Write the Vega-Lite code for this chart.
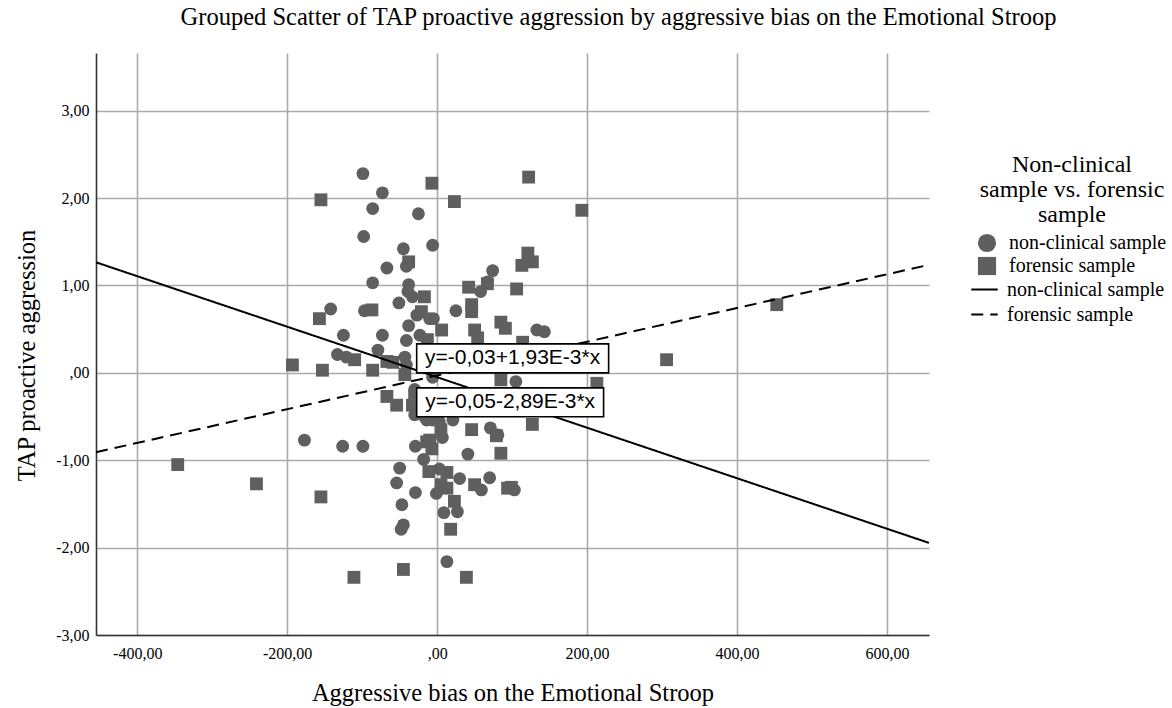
{
  "$schema": "https://vega.github.io/schema/vega-lite/v6.json",
  "width": 833,
  "height": 582,
  "autosize": {"type": "none"},
  "padding": {"left": 96, "top": 53, "right": 243, "bottom": 73},
  "background": "white",
  "title": {
    "text": "Grouped Scatter of TAP proactive aggression by aggressive bias on the Emotional Stroop",
    "font": "Liberation Serif",
    "fontSize": 24.5,
    "fontWeight": "normal",
    "color": "#000000",
    "anchor": "middle",
    "dx": 106,
    "baseline": "alphabetic",
    "offset": 4
  },
  "config": {
    "view": {"stroke": null},
    "axis": {
      "labelFont": "Liberation Serif",
      "labelFontSize": 16,
      "labelColor": "#000000",
      "titleFont": "Liberation Serif",
      "titleFontSize": 24.5,
      "titleFontWeight": "normal",
      "titleColor": "#000000",
      "gridColor": "#aaaaaa",
      "gridWidth": 1.6,
      "gridOpacity": 1,
      "domainColor": "#333333",
      "domainWidth": 1.6,
      "ticks": false
    },
    "legend": {
      "labelFont": "Liberation Serif",
      "labelFontSize": 20,
      "labelColor": "#000000",
      "titleFont": "Liberation Serif",
      "titleFontSize": 24,
      "titleFontWeight": "normal",
      "titleColor": "#000000",
      "labelLimit": 400,
      "titleLimit": 400
    }
  },
  "datasets": {
    "pts": [
      {"x": -99, "y": 2.28, "group": "non-clinical sample"},
      {"x": -73, "y": 2.06, "group": "non-clinical sample"},
      {"x": -86, "y": 1.88, "group": "non-clinical sample"},
      {"x": -25, "y": 1.82, "group": "non-clinical sample"},
      {"x": -98, "y": 1.56, "group": "non-clinical sample"},
      {"x": -45, "y": 1.42, "group": "non-clinical sample"},
      {"x": -6, "y": 1.46, "group": "non-clinical sample"},
      {"x": -41, "y": 1.22, "group": "non-clinical sample"},
      {"x": -67, "y": 1.2, "group": "non-clinical sample"},
      {"x": -86, "y": 1.03, "group": "non-clinical sample"},
      {"x": -38, "y": 1.01, "group": "non-clinical sample"},
      {"x": -39, "y": 0.93, "group": "non-clinical sample"},
      {"x": -33, "y": 0.87, "group": "non-clinical sample"},
      {"x": -51, "y": 0.8, "group": "non-clinical sample"},
      {"x": 74, "y": 1.17, "group": "non-clinical sample"},
      {"x": 67, "y": 1.04, "group": "non-clinical sample"},
      {"x": 58, "y": 0.93, "group": "non-clinical sample"},
      {"x": -142, "y": 0.73, "group": "non-clinical sample"},
      {"x": -97, "y": 0.71, "group": "non-clinical sample"},
      {"x": -27, "y": 0.66, "group": "non-clinical sample"},
      {"x": -10, "y": 0.62, "group": "non-clinical sample"},
      {"x": -5, "y": 0.62, "group": "non-clinical sample"},
      {"x": -38, "y": 0.54, "group": "non-clinical sample"},
      {"x": 25, "y": 0.71, "group": "non-clinical sample"},
      {"x": 133, "y": 0.49, "group": "non-clinical sample"},
      {"x": 143, "y": 0.47, "group": "non-clinical sample"},
      {"x": -125, "y": 0.43, "group": "non-clinical sample"},
      {"x": -73, "y": 0.43, "group": "non-clinical sample"},
      {"x": -23, "y": 0.43, "group": "non-clinical sample"},
      {"x": -41, "y": 0.37, "group": "non-clinical sample"},
      {"x": -79, "y": 0.26, "group": "non-clinical sample"},
      {"x": -133, "y": 0.21, "group": "non-clinical sample"},
      {"x": -121, "y": 0.18, "group": "non-clinical sample"},
      {"x": -43, "y": 0.18, "group": "non-clinical sample"},
      {"x": -41, "y": 0.09, "group": "non-clinical sample"},
      {"x": 105, "y": -0.1, "group": "non-clinical sample"},
      {"x": -30, "y": -0.48, "group": "non-clinical sample"},
      {"x": -17, "y": -0.5, "group": "non-clinical sample"},
      {"x": 3, "y": -0.56, "group": "non-clinical sample"},
      {"x": -14, "y": -0.54, "group": "non-clinical sample"},
      {"x": 21, "y": -0.54, "group": "non-clinical sample"},
      {"x": 7, "y": -0.74, "group": "non-clinical sample"},
      {"x": -177, "y": -0.77, "group": "non-clinical sample"},
      {"x": -126, "y": -0.84, "group": "non-clinical sample"},
      {"x": -99, "y": -0.84, "group": "non-clinical sample"},
      {"x": -29, "y": -0.84, "group": "non-clinical sample"},
      {"x": 41, "y": -0.93, "group": "non-clinical sample"},
      {"x": 71, "y": -0.63, "group": "non-clinical sample"},
      {"x": -18, "y": -0.99, "group": "non-clinical sample"},
      {"x": -50, "y": -1.09, "group": "non-clinical sample"},
      {"x": 3, "y": -1.1, "group": "non-clinical sample"},
      {"x": 30, "y": -1.21, "group": "non-clinical sample"},
      {"x": 70, "y": -1.2, "group": "non-clinical sample"},
      {"x": -54, "y": -1.26, "group": "non-clinical sample"},
      {"x": 59, "y": -1.34, "group": "non-clinical sample"},
      {"x": 103, "y": -1.34, "group": "non-clinical sample"},
      {"x": -29, "y": -1.37, "group": "non-clinical sample"},
      {"x": -1, "y": -1.38, "group": "non-clinical sample"},
      {"x": -47, "y": -1.51, "group": "non-clinical sample"},
      {"x": 9, "y": -1.6, "group": "non-clinical sample"},
      {"x": 27, "y": -1.59, "group": "non-clinical sample"},
      {"x": -48, "y": -1.79, "group": "non-clinical sample"},
      {"x": -45, "y": -1.74, "group": "non-clinical sample"},
      {"x": 13, "y": -2.16, "group": "non-clinical sample"},
      {"x": 81, "y": -0.71, "group": "non-clinical sample"},
      {"x": -6, "y": -0.54, "group": "non-clinical sample"},
      {"x": -6, "y": -0.05, "group": "non-clinical sample"},
      {"x": -30, "y": -0.19, "group": "non-clinical sample"},
      {"x": -155, "y": 1.98, "group": "forensic sample"},
      {"x": -7, "y": 2.17, "group": "forensic sample"},
      {"x": 122, "y": 2.24, "group": "forensic sample"},
      {"x": 23, "y": 1.96, "group": "forensic sample"},
      {"x": 193, "y": 1.86, "group": "forensic sample"},
      {"x": -38, "y": 1.27, "group": "forensic sample"},
      {"x": 121, "y": 1.37, "group": "forensic sample"},
      {"x": 127, "y": 1.27, "group": "forensic sample"},
      {"x": 113, "y": 1.23, "group": "forensic sample"},
      {"x": 42, "y": 0.98, "group": "forensic sample"},
      {"x": 106, "y": 0.96, "group": "forensic sample"},
      {"x": -17, "y": 0.87, "group": "forensic sample"},
      {"x": 67, "y": 1.02, "group": "forensic sample"},
      {"x": -87, "y": 0.72, "group": "forensic sample"},
      {"x": -157, "y": 0.62, "group": "forensic sample"},
      {"x": -21, "y": 0.7, "group": "forensic sample"},
      {"x": 46, "y": 0.78, "group": "forensic sample"},
      {"x": 46, "y": 0.7, "group": "forensic sample"},
      {"x": 85, "y": 0.58, "group": "forensic sample"},
      {"x": 91, "y": 0.51, "group": "forensic sample"},
      {"x": 6, "y": 0.49, "group": "forensic sample"},
      {"x": 50, "y": 0.49, "group": "forensic sample"},
      {"x": 54, "y": 0.4, "group": "forensic sample"},
      {"x": -13, "y": 0.38, "group": "forensic sample"},
      {"x": 114, "y": 0.35, "group": "forensic sample"},
      {"x": -110, "y": 0.15, "group": "forensic sample"},
      {"x": -193, "y": 0.09, "group": "forensic sample"},
      {"x": -153, "y": 0.03, "group": "forensic sample"},
      {"x": -86, "y": 0.03, "group": "forensic sample"},
      {"x": -67, "y": 0.13, "group": "forensic sample"},
      {"x": -59, "y": 0.12, "group": "forensic sample"},
      {"x": -43, "y": -0.02, "group": "forensic sample"},
      {"x": -67, "y": -0.27, "group": "forensic sample"},
      {"x": -54, "y": -0.37, "group": "forensic sample"},
      {"x": -30, "y": -0.27, "group": "forensic sample"},
      {"x": 85, "y": -0.08, "group": "forensic sample"},
      {"x": 213, "y": -0.12, "group": "forensic sample"},
      {"x": 306, "y": 0.15, "group": "forensic sample"},
      {"x": 453, "y": 0.78, "group": "forensic sample"},
      {"x": 127, "y": -0.59, "group": "forensic sample"},
      {"x": 46, "y": -0.65, "group": "forensic sample"},
      {"x": 5, "y": -0.65, "group": "forensic sample"},
      {"x": -10, "y": -0.77, "group": "forensic sample"},
      {"x": -7, "y": -0.87, "group": "forensic sample"},
      {"x": -14, "y": -0.79, "group": "forensic sample"},
      {"x": 79, "y": -0.72, "group": "forensic sample"},
      {"x": 85, "y": -0.92, "group": "forensic sample"},
      {"x": -11, "y": -1.13, "group": "forensic sample"},
      {"x": 13, "y": -1.14, "group": "forensic sample"},
      {"x": 5, "y": -1.28, "group": "forensic sample"},
      {"x": 13, "y": -1.32, "group": "forensic sample"},
      {"x": 50, "y": -1.28, "group": "forensic sample"},
      {"x": 94, "y": -1.32, "group": "forensic sample"},
      {"x": 99, "y": -1.31, "group": "forensic sample"},
      {"x": 23, "y": -1.47, "group": "forensic sample"},
      {"x": 18, "y": -1.79, "group": "forensic sample"},
      {"x": -45, "y": -2.25, "group": "forensic sample"},
      {"x": -111, "y": -2.34, "group": "forensic sample"},
      {"x": 39, "y": -2.34, "group": "forensic sample"},
      {"x": -346, "y": -1.05, "group": "forensic sample"},
      {"x": -241, "y": -1.27, "group": "forensic sample"},
      {"x": -155, "y": -1.42, "group": "forensic sample"},
      {"x": -33, "y": -0.37, "group": "forensic sample"}
    ],
    "fits": [
      {"x": -455, "y": 1.265, "fit": "non-clinical sample"},
      {"x": 656, "y": -1.946, "fit": "non-clinical sample"},
      {"x": -455, "y": -0.908, "fit": "forensic sample"},
      {"x": 656, "y": 1.236, "fit": "forensic sample"}
    ],
    "boxes": [
      {"x": -27.3, "x2": 228.7, "y": 0.332, "y2": 0.0, "xc": 100.7, "yc": 0.166, "label": "y=-0,03+1,93E-3*x"},
      {"x": -27.3, "x2": 222, "y": -0.172, "y2": -0.503, "xc": 97.4, "yc": -0.338, "label": "y=-0,05-2,89E-3*x"}
    ]
  },
  "layer": [
    {
      "data": {"name": "pts"},
      "mark": {"type": "point", "filled": true, "opacity": 1, "color": "#5f5f5f", "strokeWidth": 0, "size": 165},
      "encoding": {
        "x": {
          "field": "x", "type": "quantitative",
          "scale": {"domain": [-455, 656], "nice": false, "zero": false},
          "axis": {
            "title": "Aggressive bias on the Emotional Stroop",
            "values": [-400, -200, 0, 200, 400, 600],
            "labelExpr": "datum.value == 0 ? ',00' : (datum.value < 0 ? '-' : '') + replace(format(abs(datum.value), '.2f'), '.', ',')",
            "labelPadding": 10,
            "titleY": 65,
            "titleBaseline": "alphabetic"
          }
        },
        "y": {
          "field": "y", "type": "quantitative",
          "scale": {"domain": [-3, 3.66], "nice": false, "zero": false},
          "axis": {
            "title": "TAP proactive aggression",
            "values": [-3, -2, -1, 0, 1, 2, 3],
            "labelExpr": "datum.value == 0 ? ',00' : (datum.value < 0 ? '-' : '') + replace(format(abs(datum.value), '.2f'), '.', ',')",
            "labelPadding": 7,
            "titleX": -62,
            "titleY": 302,
            "titleBaseline": "alphabetic",
            "titleAngle": -90,
            "titleAlign": "center"
          }
        },
        "shape": {
          "field": "group", "type": "nominal",
          "scale": {"domain": ["non-clinical sample", "forensic sample"], "range": ["circle", "square"]},
          "legend": {
            "title": ["Non-clinical", "sample vs. forensic", "sample"],
            "orient": "none",
            "legendX": 881,
            "legendY": 100,
            "padding": 0,
            "titleAlign": "center",
            "titleAnchor": "middle",
            "titleLineHeight": 25,
            "titlePadding": 6,
            "symbolSize": 330,
            "symbolFillColor": "#5f5f5f",
            "symbolStrokeWidth": 0,
            "symbolOpacity": 1,
            "labelOffset": 12,
            "rowPadding": 3
          }
        }
      }
    },
    {
      "data": {"name": "fits"},
      "mark": {"type": "line", "color": "#000000", "strokeWidth": 2},
      "encoding": {
        "x": {"field": "x", "type": "quantitative"},
        "y": {"field": "y", "type": "quantitative"},
        "strokeDash": {
          "field": "fit", "type": "nominal",
          "sort": ["non-clinical sample", "forensic sample"],
          "scale": {"range": [[1, 0], [12, 7]]},
          "legend": {
            "title": null,
            "orient": "none",
            "legendX": 874,
            "legendY": 222,
            "padding": 0,
            "symbolType": "stroke",
            "symbolSize": 700,
            "symbolStrokeColor": "#000000",
            "symbolStrokeWidth": 2,
            "labelOffset": 8,
            "rowPadding": -3
          }
        }
      }
    },
    {
      "data": {"name": "boxes"},
      "mark": {"type": "rect", "fill": "#ffffff", "stroke": "#000000", "strokeWidth": 1.6},
      "encoding": {
        "x": {"field": "x", "type": "quantitative"},
        "x2": {"field": "x2"},
        "y": {"field": "y", "type": "quantitative"},
        "y2": {"field": "y2"}
      }
    },
    {
      "data": {"name": "boxes"},
      "mark": {"type": "text", "font": "Liberation Sans", "fontSize": 21, "color": "#000000", "align": "center", "baseline": "middle"},
      "encoding": {
        "x": {"field": "xc", "type": "quantitative"},
        "y": {"field": "yc", "type": "quantitative"},
        "text": {"field": "label"}
      }
    }
  ]
}
